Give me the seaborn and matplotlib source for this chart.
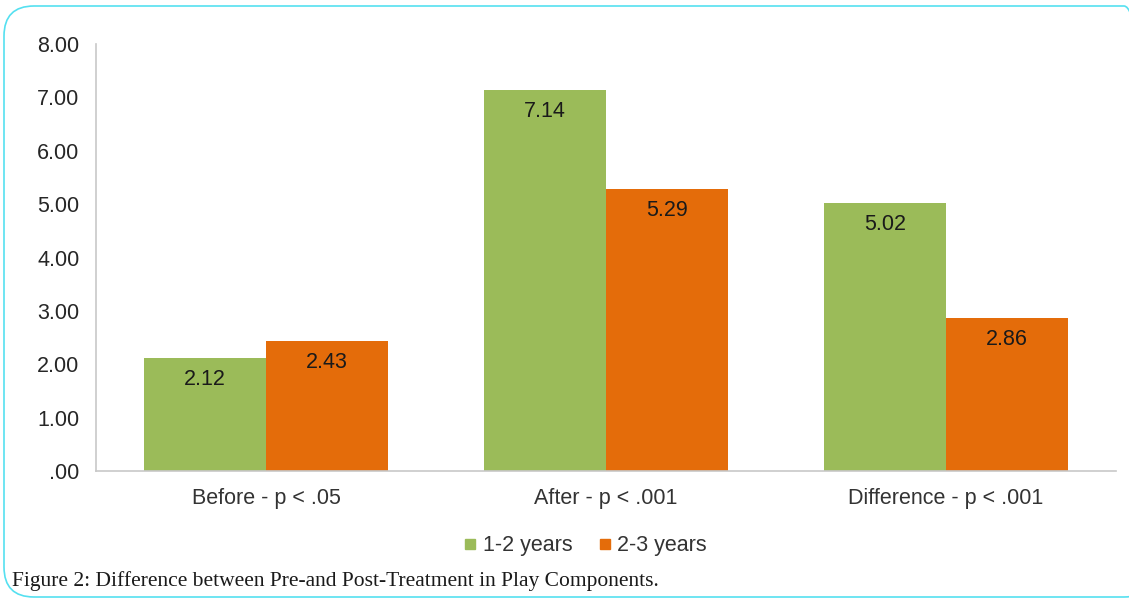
import matplotlib
matplotlib.use("Agg")
import matplotlib.pyplot as plt
import seaborn as sns
import pandas as pd
from matplotlib.patches import FancyBboxPatch
from matplotlib.transforms import IdentityTransform
from matplotlib.lines import Line2D

categories = ["Before - p < .05", "After - p < .001", "Difference - p < .001"]
series = ["1-2 years", "2-3 years"]
values_12 = [2.12, 7.14, 5.02]
values_23 = [2.43, 5.29, 2.86]
yticks = [0, 1, 2, 3, 4, 5, 6, 7, 8]
colors = ["#9BBB59", "#E46C0A"]

df = pd.DataFrame({
    "category": categories * 2,
    "group": [series[0]] * 3 + [series[1]] * 3,
    "value": values_12 + values_23,
})

sns.set_theme(style="white")
plt.rcParams["font.family"] = ["Liberation Sans", "DejaVu Sans"]

fig = plt.figure(figsize=(11.29, 5.99), dpi=100)
ax = fig.add_axes([0.085, 0.2137, 0.9035, 0.7128])

sns.barplot(data=df, x="category", y="value", hue="group", palette=colors,
            width=0.72, saturation=1, ax=ax, legend=False, edgecolor="none")

ax.set_ylim(0, 8)
ax.set_xlim(-0.5, 2.5)
ax.set_yticks(yticks)
ax.set_yticklabels([(f"{v:.2f}" if v != 0 else ".00") for v in yticks])
ax.tick_params(axis="y", length=0, pad=12, labelsize=15.5, labelcolor="#262626")
ax.tick_params(axis="x", length=0, pad=12, labelsize=15.5, labelcolor="#333333")
ax.set_xlabel("")
ax.set_ylabel("")
for s in ["top", "right"]:
    ax.spines[s].set_visible(False)
for s in ["left", "bottom"]:
    ax.spines[s].set_color("#C8C8C8")
    ax.spines[s].set_linewidth(1.2)

for cont in ax.containers:
    ax.bar_label(cont, fmt="%.2f", padding=-23, fontsize=15.5, color="#1a1a1a")

handles = [Line2D([0], [0], marker="s", linestyle="none", markersize=7.5,
                  markerfacecolor=c, markeredgecolor=c) for c in colors]
fig.legend(handles, series, loc="center", bbox_to_anchor=(583 / 1129, 1 - 546 / 599),
           ncol=2, frameon=False, fontsize=15.5, handletextpad=0.1, columnspacing=1.0,
           handlelength=1.0, labelcolor="#333333")

fig.text(12 / 1129, 1 - 581 / 599,
         "Figure 2: Difference between Pre-and Post-Treatment in Play Components.",
         family=["Liberation Serif", "DejaVu Serif"], fontsize=15.5, va="center", ha="left",
         color="#1a1a1a")

frame = FancyBboxPatch((4, 2), 1150, 591, boxstyle="round,pad=0,rounding_size=30",
                       transform=IdentityTransform(), facecolor="none",
                       edgecolor="#55E0F0", linewidth=1.2)
fig.patches.append(frame)

fig.savefig("out.png", dpi=100)
